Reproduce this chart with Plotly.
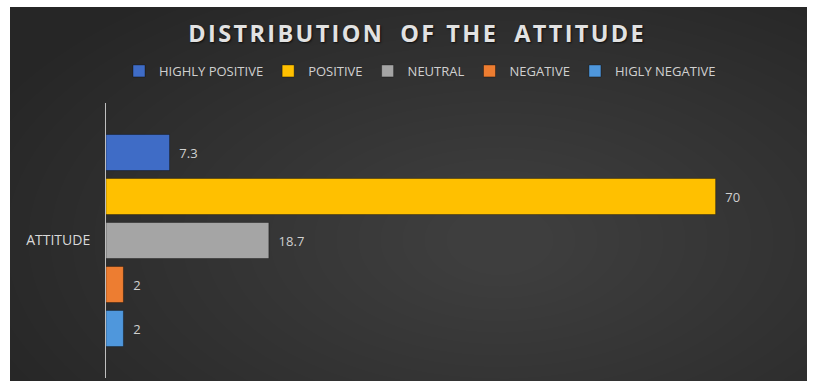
import plotly.graph_objects as go

categories = ["ATTITUDE"]
series_names = ["HIGHLY POSITIVE", "POSITIVE", "NEUTRAL", "NEGATIVE", "HIGLY NEGATIVE"]
series_values = [7.3, 70, 18.7, 2, 2]
series_colors = ["#3f6cc6", "#ffc000", "#a5a5a5", "#ed7d31", "#4f97dc"]
title_words = ["DISTRIBUTION", "OF", "THE", "ATTITUDE"]

W, H = 813, 387
L, R, T, B = 106, 19, 103, 9
pw, ph = W - L - R, H - T - B

def px_x(x):
    return (x - L) / pw

def px_y(y):
    return (H - B - y) / ph

def spaced(word):
    return "\u200a".join(word)

title_str = (spaced(title_words[0]) + "\u00a0\u00a0\u00a0" + spaced(title_words[1]) + "\u00a0\u00a0"
             + spaced(title_words[2]) + "\u00a0\u00a0\u00a0" + spaced(title_words[3]))

fig = go.Figure()
for name, val, col in zip(series_names, series_values, series_colors):
    fig.add_trace(go.Bar(
        y=categories, x=[val], name=name, orientation="h",
        marker=dict(color=col, line=dict(color="rgba(0,0,0,0.35)", width=1)),
        text=["\u00a0\u00a0" + str(val)], textposition="outside",
        textfont=dict(color="#d0d0d0", size=13, family="Open Sans"),
        cliponaxis=False,
    ))

shapes = [dict(type="rect", xref="paper", yref="paper",
               x0=px_x(10), x1=px_x(807), y0=px_y(381), y1=px_y(7),
               fillcolor="#262626", line=dict(width=0), layer="below")]
cx, cy = 500, 240
n = 24
for i in range(n):
    rx = 560 - i * 22
    ry = 300 - i * 11.5
    shapes.append(dict(type="circle", xref="paper", yref="paper",
                       x0=px_x(cx - rx), x1=px_x(cx + rx),
                       y0=px_y(cy + ry), y1=px_y(cy - ry),
                       fillcolor="rgba(255,255,255,0.0095)", line=dict(width=0),
                       layer="below"))
# white border outside the dark chart area
for x0, x1, y0, y1 in [(-5, 10, -5, H + 5), (807, W + 5, -5, H + 5),
                       (-5, W + 5, -5, 7), (-5, W + 5, 381, H + 5)]:
    shapes.append(dict(type="rect", xref="paper", yref="paper",
                       x0=px_x(x0), x1=px_x(x1), y0=px_y(y1), y1=px_y(y0),
                       fillcolor="white", line=dict(width=0), layer="below"))

fig.update_layout(
    width=W, height=H,
    margin=dict(l=L, r=R, t=T, b=B),
    paper_bgcolor="white", plot_bgcolor="rgba(0,0,0,0)",
    barmode="group", bargap=0.2, bargroupgap=0.18,
    shapes=shapes,
    title=dict(text="<b>" + title_str + "</b>",
               x=416 / W, xref="container", xanchor="center",
               y=1 - 34 / H, yref="container", yanchor="middle",
               font=dict(family="Open Sans", size=23.5, color="#e2e2e2",
                         shadow="1px 1px 2px rgba(0,0,0,0.7)")),
    legend=dict(orientation="h", xref="container", yref="container",
                x=420 / W, xanchor="center", y=1 - 71 / H, yanchor="middle",
                font=dict(family="Open Sans", size=13, color="#d0d0d0"),
                bgcolor="rgba(0,0,0,0)", itemclick=False, itemwidth=30),
    showlegend=True,
    xaxis=dict(range=[0, 79], showgrid=False, zeroline=False, showticklabels=False,
               showline=False, fixedrange=True),
    yaxis=dict(autorange="reversed", showline=True, linecolor="#bfbfbf", linewidth=1,
               ticks="", ticklabelstandoff=12, showgrid=False,
               tickfont=dict(family="Open Sans", size=14, color="#d9d9d9")),
)

fig.write_html("out.html", config={"displayModeBar": False},
               post_script="document.body.style.margin='0';")
